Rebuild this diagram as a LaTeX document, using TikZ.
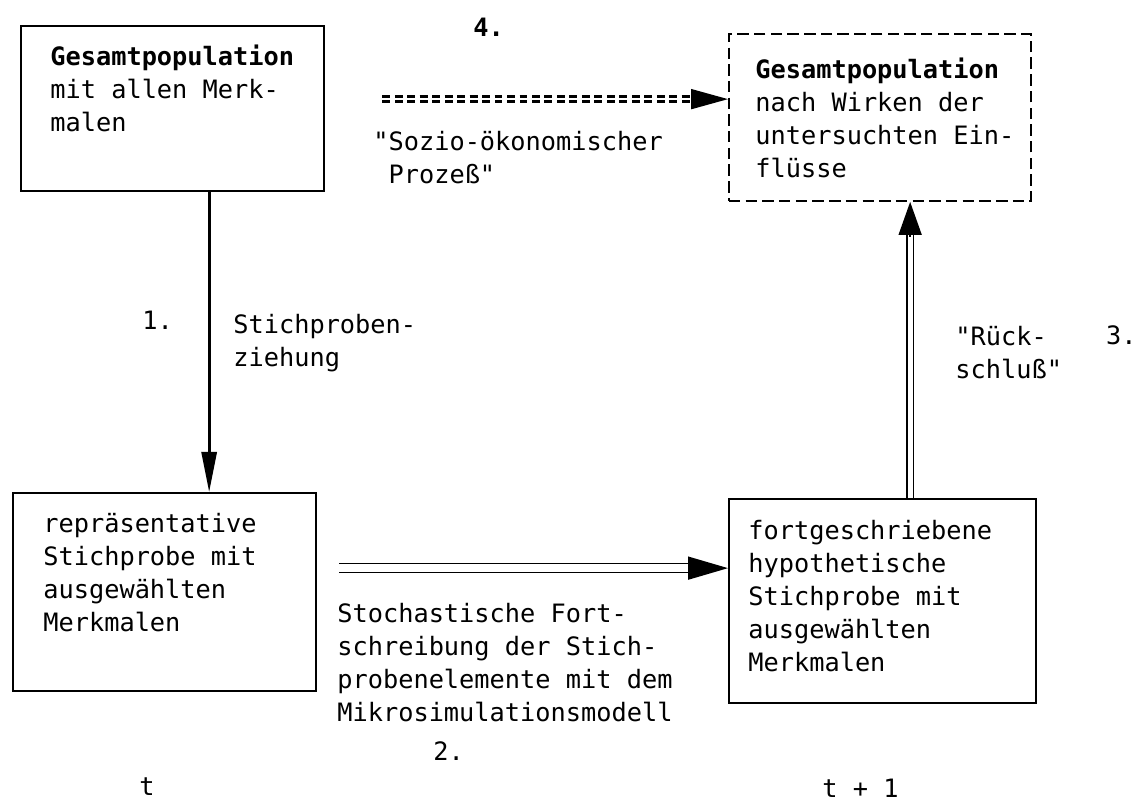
\documentclass[tikz,border=0pt]{standalone}
\usepackage{fontspec}
\setmonofont{DejaVu Sans Mono}
\usepackage{tikz}
\usetikzlibrary{arrows.meta,positioning}

\newcommand{\schreibm}{\ttfamily\fontsize{14.4}{18.7}\selectfont}

\begin{document}
\begin{tikzpicture}[
    kasten/.style={draw, line width=1.3pt, anchor=north west, inner sep=0pt},
    txt/.style={font=\schreibm, align=left, inner sep=0pt},
    ziehen/.style={line width=1.6pt, -{Triangle[length=8mm,width=3mm]}},
    doppelt/.style={double, line width=0.9pt, double distance=4.2pt},
    prozess/.style={double, line width=1.4pt, double distance=1.4pt, dash pattern=on 4.5pt off 2.6pt},
  ]
  \useasboundingbox (0,0) rectangle (22.76,16.14);

  % die vier Kaesten
  \node[kasten, minimum width=6.06cm, minimum height=3.30cm] (gesamt) at (0.40,15.64) {};
  \node[kasten, line width=1.1pt, dash pattern=on 6.5pt off 3pt, minimum width=6.04cm, minimum height=3.34cm] (ziel) at (14.56,15.48) {};
  \node[kasten, minimum width=6.06cm, minimum height=3.96cm] (stichprobe) at (0.24,6.30) {};
  \node[kasten, minimum width=6.14cm, minimum height=4.08cm] (fortschr) at (14.56,6.18) {};

  \node[txt, below right=0.40cm and 0.60cm of gesamt.north west] (gesamttext)
    {\textbf{Gesamtpopulation}\\mit allen Merk-\\malen};
  \node[txt, below right=0.50cm and 0.54cm of ziel.north west] (zieltext)
    {\textbf{Gesamtpopulation}\\nach Wirken der\\untersuchten Ein-\\flüsse};
  \node[txt, below right=0.42cm and 0.62cm of stichprobe.north west] (stichprobetext)
    {repräsentative\\Stichprobe mit\\ausgewählten\\Merkmalen};
  \node[txt, below right=0.44cm and 0.40cm of fortschr.north west] (fortschrtext)
    {fortgeschriebene\\hypothetische\\Stichprobe mit\\ausgewählten\\Merkmalen};

  % 1. Stichprobenziehung
  \draw[ziehen] ([xshift=7.3mm]gesamt.south) -- ([xshift=7.3mm]gesamt.south |- stichprobe.north);
  \node[txt, anchor=base west] (nr1) at (2.84,9.54) {1.};
  \node[txt, anchor=north west] (ziehung) at (4.66,9.86) {Stichproben-\\ziehung};

  % 2. Fortschreibung
  \coordinate (p2a) at ([xshift=4.4mm,yshift=4.8mm]stichprobe.east);
  \coordinate (p2b) at (p2a -| fortschr.west);
  \draw[doppelt, shorten >=7.5mm] (p2a) -- (p2b);
  \draw[line width=0.9pt, -{Triangle[length=8mm,width=4.6mm]}] ([xshift=-8mm]p2b) -- (p2b);
  \node[txt, anchor=north west] (fortschreibung) at (6.74,4.08)
    {Stochastische Fort-\\schreibung der Stich-\\probenelemente mit dem\\Mikrosimulationsmodell};
  \node[txt, anchor=base west] (nr2) at (8.66,0.94) {2.};

  % 3. Rueckschluss
  \coordinate (p3a) at ([xshift=5.5mm]fortschr.north);
  \coordinate (p3b) at (p3a |- ziel.south);
  \draw[doppelt, double distance=3pt, shorten >=6mm] (p3a) -- (p3b);
  \draw[line width=0.9pt, -{Triangle[length=6.6mm,width=4.6mm]}] ([yshift=-7mm]p3b) -- (p3b);
  \node[txt, anchor=north west] (rueck) at (19.10,9.62) {"Rück-\\schluß"};
  \node[txt, anchor=base east] (nr3) at (22.74,9.24) {3.};

  % 4. sozio-oekonomischer Prozess
  \coordinate (p4a) at ([xshift=11.4mm,yshift=1.9mm]gesamt.east);
  \coordinate (p4b) at (p4a -| ziel.west);
  \draw[prozess, shorten >=7mm] (p4a) -- (p4b);
  \draw[line width=1pt, -{Triangle[length=7.4mm,width=4mm]}] ([xshift=-7.4mm]p4b) -- (p4b);
  \node[txt, anchor=base west, font=\schreibm\bfseries] (nr4) at (9.46,15.40) {4.};
  \node[txt, anchor=north west] (sozio) at (7.46,13.52) {"Sozio-ökonomischer\\\hphantom{"}Prozeß"};

  % Zeitpunkte
  \node[txt, anchor=base west] (zeitt) at (2.78,0.24) {t};
  \node[txt, anchor=base west] (zeitt1) at (16.44,0.20) {t + 1};
\end{tikzpicture}
\end{document}
